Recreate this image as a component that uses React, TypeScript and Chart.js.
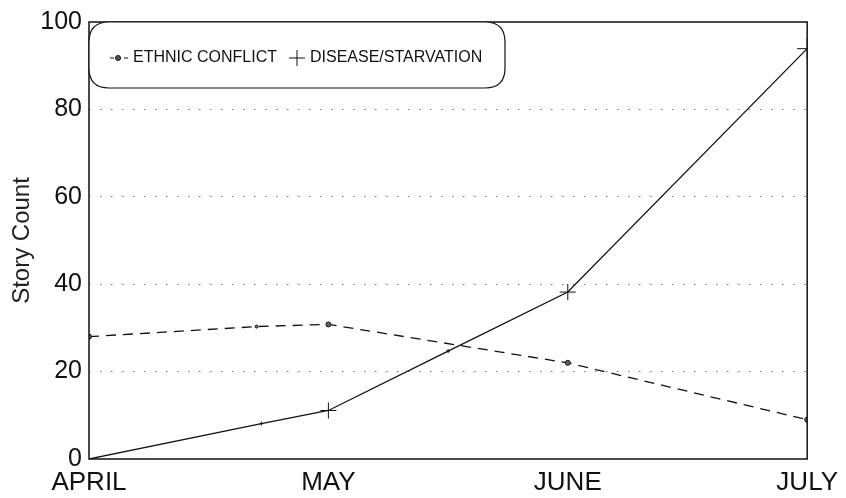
import React, { useEffect, useRef } from "react";
import { Chart, registerables } from "chart.js";
Chart.register(...registerables);

const months = ["APRIL", "MAY", "JUNE", "JULY"];
const ethnicX = [0, 0.7, 1, 2, 3];
const ethnicY = [28, 30.3, 30.8, 22, 9];
const diseaseX = [0, 0.72, 1, 1.5, 2, 3];
const diseaseY = [0, 8.1, 11.1, 24.7, 38.2, 93.9];
const legendLabels = ["ETHNIC CONFLICT", "DISEASE/STARVATION"];
const yTitle = "Story Count";

const FONT = '"Liberation Sans", Arial, Helvetica, sans-serif';

const framePlugin = {
  id: "frameAndLegend",
  afterDatasetsDraw(chart: any) {
    const { ctx, chartArea } = chart;
    const { left, right, top, bottom } = chartArea;
    ctx.save();
    ctx.strokeStyle = "#111";
    ctx.lineWidth = 1.5;
    ctx.setLineDash([]);
    ctx.strokeRect(left, top, right - left, bottom - top);

    // legend box
    const bx = left, by = top, bw = 416, bh = 66, r = 20;
    ctx.beginPath();
    ctx.moveTo(bx + r, by);
    ctx.lineTo(bx + bw - r, by);
    ctx.quadraticCurveTo(bx + bw, by, bx + bw, by + r);
    ctx.lineTo(bx + bw, by + bh - r);
    ctx.quadraticCurveTo(bx + bw, by + bh, bx + bw - r, by + bh);
    ctx.lineTo(bx + r, by + bh);
    ctx.quadraticCurveTo(bx, by + bh, bx, by + bh - r);
    ctx.lineTo(bx, by + r);
    ctx.quadraticCurveTo(bx, by, bx + r, by);
    ctx.closePath();
    ctx.fillStyle = "#fff";
    ctx.fill();
    ctx.lineWidth = 1.2;
    ctx.stroke();

    const cy = by + 36;
    // ethnic symbol
    ctx.lineWidth = 1;
    ctx.setLineDash([4, 3]);
    ctx.beginPath();
    ctx.moveTo(bx + 21, cy);
    ctx.lineTo(bx + 39, cy);
    ctx.stroke();
    ctx.setLineDash([]);
    ctx.beginPath();
    ctx.arc(bx + 29, cy, 2.5, 0, Math.PI * 2);
    ctx.fillStyle = "#555";
    ctx.fill();
    ctx.stroke();

    ctx.fillStyle = "#111";
    ctx.font = `16px ${FONT}`;
    ctx.textBaseline = "middle";
    ctx.textAlign = "left";
    ctx.fillText(legendLabels[0], bx + 44, cy);

    // disease symbol
    ctx.beginPath();
    ctx.moveTo(bx + 200, cy);
    ctx.lineTo(bx + 216, cy);
    ctx.moveTo(bx + 208, cy - 8);
    ctx.lineTo(bx + 208, cy + 8);
    ctx.stroke();
    ctx.fillText(legendLabels[1], bx + 221, cy);
    ctx.restore();
  },
};

export default function App() {
  const ref = useRef<HTMLCanvasElement | null>(null);
  useEffect(() => {
    if (!ref.current) return;
    const chart = new Chart(ref.current, {
      type: "line",
      data: {
        datasets: [
          {
            label: legendLabels[0],
            data: ethnicX.map((x, i) => ({ x, y: ethnicY[i] })),
            borderColor: "#111",
            borderWidth: 1.3,
            borderDash: [10, 7],
            pointStyle: "circle",
            pointRadius: [2.5, 1.5, 2.5, 2.5, 2.5],
            pointBackgroundColor: "#666",
            pointBorderColor: "#111",
            pointBorderWidth: 1,
            tension: 0,
          },
          {
            label: legendLabels[1],
            data: diseaseX.map((x, i) => ({ x, y: diseaseY[i] })),
            borderColor: "#111",
            borderWidth: 1.3,
            pointStyle: "cross",
            pointRadius: [0, 2, 8, 2, 8, 10],
            pointBorderColor: "#111",
            pointBorderWidth: 1,
            tension: 0,
          },
        ],
      },
      options: {
        animation: false,
        responsive: false,
        layout: { padding: { top: 17, right: 38, left: 0, bottom: 0 } },
        plugins: { legend: { display: false }, tooltip: { enabled: false } },
        scales: {
          x: {
            type: "linear",
            min: 0,
            max: 3,
            afterFit: (s: any) => {
              s.height = 39;
            },
            grid: { display: false, drawTicks: false },
            border: { display: false },
            ticks: {
              stepSize: 1,
              padding: 8,
              color: "#111",
              font: { family: FONT, size: 26 },
              callback: (v: any) => months[Math.round(Number(v))] ?? "",
            },
          },
          y: {
            min: 0,
            max: 100,
            afterFit: (s: any) => {
              s.width = 89;
            },
            grid: {
              drawTicks: false,
              color: (c: any) =>
                c.tick && (c.tick.value === 0 || c.tick.value === 100) ? "rgba(0,0,0,0)" : "#777",
              lineWidth: 1,
            },
            border: { display: false, dash: [1.5, 9.5] },
            ticks: {
              stepSize: 20,
              padding: 7,
              color: "#111",
              font: { family: FONT, size: 25 },
            },
            title: {
              display: true,
              text: yTitle,
              color: "#222",
              font: { family: FONT, size: 24 },
              padding: { top: 8, bottom: 0 },
            },
          },
        },
      },
      plugins: [framePlugin],
    } as any);
    return () => chart.destroy();
  }, []);
  return (
    <div style={{ position: "fixed", left: 0, top: 0, width: 846, height: 498, background: "#fff" }}>
      <canvas ref={ref} width={846} height={498} style={{ width: 846, height: 498, display: "block" }} />
    </div>
  );
}
